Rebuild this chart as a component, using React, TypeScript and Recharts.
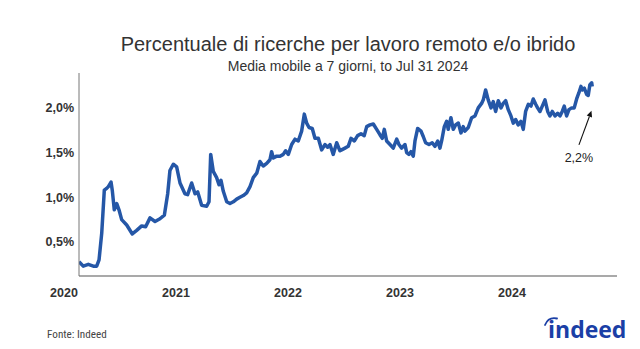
import React from 'react';
import { LineChart, Line, XAxis, YAxis, ReferenceLine } from 'recharts';

const TITLE = 'Percentuale di ricerche per lavoro remoto e/o ibrido';
const SUBTITLE = 'Media mobile a 7 giorni, to Jul 31 2024';
const SOURCE = 'Fonte: Indeed';
const ANNOTATION = '2,2%';

const X_TICKS = [2020, 2021, 2022, 2023, 2024];
const Y_TICKS = [0.5, 1.0, 1.5, 2.0];
const X_DOMAIN = [2020.134, 2024.938];
const Y_DOMAIN = [0.12, 2.39];

// decimal year of each observation
const YEARS = [
  2020.134, 2020.172, 2020.217, 2020.262, 2020.292, 2020.313, 2020.337, 2020.36, 2020.381, 2020.396,
  2020.42, 2020.431, 2020.449, 2020.471, 2020.491, 2020.515, 2020.56, 2020.61, 2020.649, 2020.694,
  2020.729, 2020.768, 2020.813, 2020.857, 2020.896, 2020.926, 2020.946, 2020.976, 2021.006, 2021.036,
  2021.08, 2021.104, 2021.14, 2021.17, 2021.194, 2021.229, 2021.274, 2021.295, 2021.31, 2021.333,
  2021.363, 2021.384, 2021.402, 2021.422, 2021.453, 2021.482, 2021.512, 2021.542, 2021.571, 2021.601,
  2021.631, 2021.661, 2021.69, 2021.721, 2021.75, 2021.779, 2021.81, 2021.839, 2021.854, 2021.869,
  2021.899, 2021.929, 2021.958, 2021.979, 2022.003, 2022.033, 2022.063, 2022.092, 2022.122, 2022.146,
  2022.167, 2022.188, 2022.217, 2022.241, 2022.271, 2022.301, 2022.33, 2022.354, 2022.375, 2022.404,
  2022.435, 2022.464, 2022.479, 2022.509, 2022.538, 2022.563, 2022.592, 2022.622, 2022.652, 2022.681,
  2022.703, 2022.732, 2022.762, 2022.792, 2022.821, 2022.842, 2022.86, 2022.881, 2022.911, 2022.94,
  2022.971, 2022.991, 2023.015, 2023.045, 2023.06, 2023.08, 2023.098, 2023.119, 2023.134, 2023.158,
  2023.188, 2023.208, 2023.229, 2023.259, 2023.288, 2023.313, 2023.337, 2023.357, 2023.372, 2023.396,
  2023.417, 2023.431, 2023.455, 2023.476, 2023.497, 2023.521, 2023.545, 2023.565, 2023.58, 2023.61,
  2023.64, 2023.67, 2023.699, 2023.729, 2023.744, 2023.765, 2023.788, 2023.813, 2023.833, 2023.854,
  2023.878, 2023.902, 2023.922, 2023.944, 2023.967, 2023.991, 2024.012, 2024.033, 2024.056, 2024.08,
  2024.101, 2024.122, 2024.146, 2024.17, 2024.19, 2024.212, 2024.229, 2024.25, 2024.271, 2024.295,
  2024.319, 2024.339, 2024.36, 2024.384, 2024.408, 2024.429, 2024.449, 2024.467, 2024.488, 2024.509,
  2024.533, 2024.556, 2024.58, 2024.598, 2024.616, 2024.628, 2024.646, 2024.667, 2024.681, 2024.696,
  2024.712, 2024.717,
];

// share of searches (%)
const SHARE = [
  0.28, 0.23, 0.25, 0.23, 0.23, 0.3, 0.6, 1.08, 1.1, 1.12,
  1.17, 1.08, 0.86, 0.93, 0.86, 0.75, 0.69, 0.59, 0.63, 0.68,
  0.67, 0.77, 0.73, 0.76, 0.8, 1.04, 1.3, 1.37, 1.34, 1.16,
  1.04, 1.03, 1.16, 1.04, 1.06, 0.91, 0.9, 0.95, 1.48, 1.29,
  1.22, 1.14, 1.19, 1.07, 0.95, 0.93, 0.95, 0.98, 1.0, 1.02,
  1.05, 1.12, 1.22, 1.27, 1.4, 1.35, 1.38, 1.42, 1.51, 1.44,
  1.46, 1.46, 1.48, 1.52, 1.48, 1.59, 1.65, 1.63, 1.74, 1.93,
  1.83, 1.78, 1.77, 1.66, 1.66, 1.53, 1.59, 1.56, 1.59, 1.48,
  1.61, 1.52, 1.53, 1.55, 1.57, 1.66, 1.63, 1.69, 1.71, 1.69,
  1.79, 1.81, 1.82, 1.76, 1.7, 1.66, 1.76, 1.63, 1.59, 1.55,
  1.65, 1.59, 1.55, 1.59, 1.5, 1.48, 1.51, 1.46, 1.63, 1.77,
  1.74, 1.68, 1.61, 1.59, 1.61, 1.57, 1.63, 1.55, 1.63, 1.79,
  1.85, 1.76, 1.89, 1.76, 1.81, 1.83, 1.72, 1.79, 1.74, 1.78,
  1.89, 1.91, 2.0, 2.05, 2.09, 2.2, 2.09, 2.0, 2.07, 1.96,
  2.08, 2.0, 2.05, 2.08, 1.98, 1.91, 1.83, 1.87, 1.81, 1.85,
  1.76, 1.96, 2.04, 2.02, 2.1, 2.04, 2.0, 1.96, 2.02, 2.09,
  1.96, 1.91, 1.96, 1.91, 1.94, 1.91, 1.96, 2.02, 1.91, 1.98,
  2.0, 2.0, 2.11, 2.17, 2.24, 2.2, 2.22, 2.15, 2.14, 2.26,
  2.28, 2.24,
];

// annotation arrow endpoints (data coordinates)
const ARROW_FROM = { t: 2024.598, v: 1.586 };
const ARROW_TO = { t: 2024.71, v: 1.967 };

const data = YEARS.map((t, i) => ({ t, v: SHARE[i] }));

const fmtPct = (v: number) => v.toFixed(1).replace('.', ',') + '%';

const ArrowShape = (props: any) => {
  const { x1, y1, x2, y2 } = props;
  if ([x1, y1, x2, y2].some((n) => typeof n !== 'number' || isNaN(n))) return null;
  const ang = Math.atan2(y2 - y1, x2 - x1);
  const len = 6;
  const w = 2.8;
  const bx = x2 - len * Math.cos(ang);
  const by = y2 - len * Math.sin(ang);
  const px = -Math.sin(ang) * w;
  const py = Math.cos(ang) * w;
  return (
    <g>
      <line x1={x1} y1={y1} x2={bx} y2={by} stroke="#111" strokeWidth={1.1} />
      <polygon points={`${x2},${y2} ${bx + px},${by + py} ${bx - px},${by - py}`} fill="#111" />
      <text
        x={x1}
        y={y1 + 17.5}
        textAnchor="middle"
        fontFamily="'Liberation Sans', Arial, sans-serif"
        fontSize={12.5}
        fill="#222"
      >
        {ANNOTATION}
      </text>
    </g>
  );
};

const tickStyle = {
  fontFamily: "'Liberation Sans', Arial, sans-serif",
  fontSize: 12.5,
  fontWeight: 700,
  fill: '#333',
};

export default function App() {
  return (
    <div style={{ position: 'absolute', left: 0, top: 0, width: 640, height: 349, background: '#fff' }}>
      <LineChart width={640} height={349} data={data} margin={{ top: 73, right: 23, bottom: 43, left: 0 }}>
        <XAxis
          dataKey="t"
          type="number"
          domain={X_DOMAIN}
          ticks={X_TICKS}
          interval={0}
          allowDataOverflow
          tickFormatter={(v: number) => String(Math.round(v))}
          tick={tickStyle}
          tickLine={false}
          tickSize={0}
          tickMargin={12.5}
          axisLine={{ stroke: '#555', strokeWidth: 1.2 }}
          height={30}
        />
        <YAxis
          type="number"
          domain={Y_DOMAIN}
          ticks={Y_TICKS}
          interval={0}
          allowDataOverflow
          tickFormatter={fmtPct}
          tick={tickStyle}
          tickLine={false}
          tickSize={0}
          tickMargin={5}
          axisLine={{ stroke: '#777', strokeWidth: 1 }}
          width={79}
        />
        <Line
          type="linear"
          dataKey="v"
          stroke="#2557a7"
          strokeWidth={3.5}
          dot={false}
          isAnimationActive={false}
          strokeLinejoin="round"
        />
        <ReferenceLine
          segment={[
            { x: ARROW_FROM.t, y: ARROW_FROM.v },
            { x: ARROW_TO.t, y: ARROW_TO.v },
          ]}
          shape={ArrowShape}
        />
      </LineChart>
      <svg
        width={640}
        height={349}
        style={{ position: 'absolute', left: 0, top: 0, pointerEvents: 'none' }}
      >
        <text
          x={348}
          y={50.5}
          textAnchor="middle"
          fontFamily="'Liberation Sans', Arial, sans-serif"
          fontSize={20}
          fill="#333"
        >
          {TITLE}
        </text>
        <text
          x={348}
          y={70.5}
          textAnchor="middle"
          fontFamily="'Liberation Sans', Arial, sans-serif"
          fontSize={14}
          fill="#333"
        >
          {SUBTITLE}
        </text>
        <text
          x={47}
          y={338}
          fontFamily="'Liberation Sans Narrow', 'Roboto Condensed', 'Liberation Sans', Arial, sans-serif"
          fontSize={11.2}
          fill="#444"
        >
          {SOURCE}
        </text>
        <g>
          <text
            x={548}
            y={338.3}
            fontFamily="'Open Sans', 'Liberation Sans', Arial, sans-serif"
            fontSize={23}
            fontWeight={700}
            fill="#1b3fa6"
          >
            indeed
          </text>
          <path d="M545 325 Q548.5 316.5 557 318.5" stroke="#1b3fa6" strokeWidth={1.8} fill="none" strokeLinecap="round" />
        </g>
      </svg>
    </div>
  );
}
